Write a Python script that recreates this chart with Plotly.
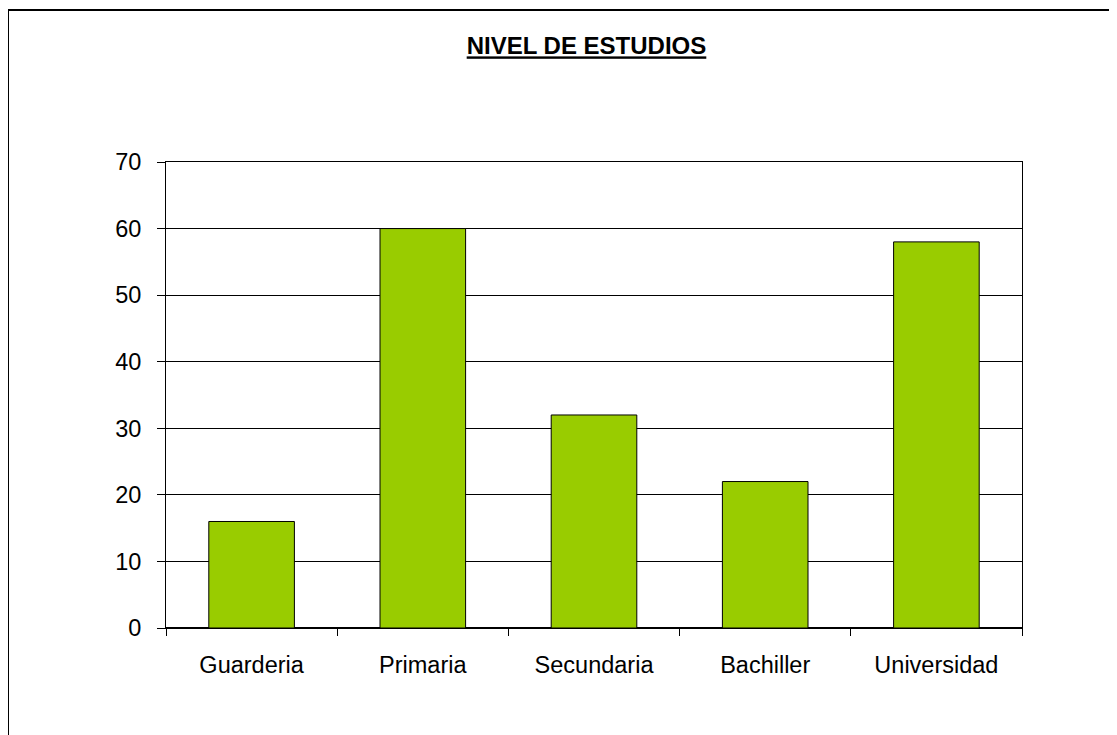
import plotly.graph_objects as go

categories = ["Guarderia", "Primaria", "Secundaria", "Bachiller", "Universidad"]
values = [16, 60, 32, 22, 58]
y_ticks = [0, 10, 20, 30, 40, 50, 60, 70]
title_text = "NIVEL DE ESTUDIOS"

# page body has an 8px margin, so figure coords = screen coords - 8
OFF = 8
W, H = 1117, 735
L = 166 - OFF
T = 162 - OFF
pw, ph = 856, 466
R = W - L - pw
B = H - T - ph

fig = go.Figure(go.Bar(
    x=categories, y=values,
    marker=dict(color="#99CC00", line=dict(color="black", width=1)),
    width=0.5,
))

def px2paper_x(px):
    return (px - L) / pw

def px2paper_y(py):
    return (H - B - py) / ph

fig.add_shape(type="rect", xref="paper", yref="paper",
              x0=px2paper_x(0), x1=px2paper_x(W + 40),
              y0=px2paper_y(H + 40), y1=px2paper_y(2),
              line=dict(color="black", width=2), layer="below")

fig.update_layout(
    width=W, height=H,
    margin=dict(l=L, r=R, t=T, b=B, autoexpand=False),
    paper_bgcolor="white", plot_bgcolor="white",
    font=dict(family="Liberation Sans, Arial", size=23.5, color="black"),
    showlegend=False,
    title=dict(text="<b><u>" + title_text + "</u></b>", x=(586.5 - OFF) / W, xanchor="center",
               y=1 - (46 - OFF) / H, yanchor="middle", font=dict(size=24)),
    bargap=0.5,
)
fig.update_xaxes(showline=True, linecolor="black", linewidth=1, mirror=True,
                 ticks="outside", ticklen=7, tickcolor="black", tickson="boundaries",
                 showgrid=False, ticklabelstandoff=16)
fig.update_yaxes(range=[0, 70], tickvals=y_ticks, showline=True, linecolor="black",
                 linewidth=1, mirror=True, ticks="outside", ticklen=8, tickcolor="black",
                 showgrid=True, gridcolor="black", gridwidth=1, zeroline=True,
                 zerolinecolor="black", zerolinewidth=2, ticklabelstandoff=11)

fig.write_html("out.html")
